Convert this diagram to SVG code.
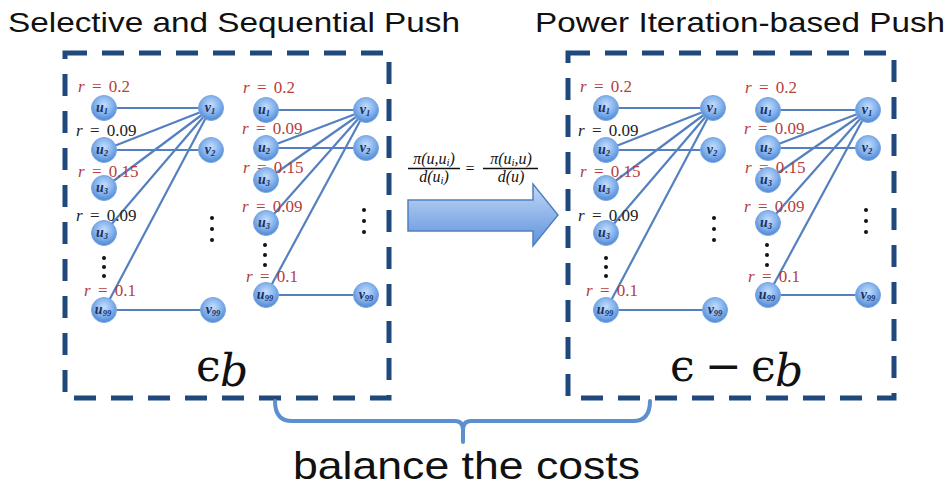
<svg xmlns="http://www.w3.org/2000/svg" width="951" height="486" viewBox="0 0 951 486">
<defs>
<radialGradient id="nodeFill" cx="50%" cy="38%" r="62%">
<stop offset="0" stop-color="#c6defa"/>
<stop offset="0.55" stop-color="#86b4ee"/>
<stop offset="1" stop-color="#4d86d3"/>
</radialGradient>
<linearGradient id="arrowFill" x1="0" y1="0" x2="0" y2="1">
<stop offset="0" stop-color="#c3d8f6"/>
<stop offset="1" stop-color="#5f92dc"/>
</linearGradient>
<style>
.box{fill:none;stroke:#1f497d;stroke-width:5;stroke-dasharray:22 15}
.edge{stroke:#5580c0;stroke-width:2.2;fill:none}
.node circle{fill:url(#nodeFill);stroke:#7aa6e0;stroke-width:1}
.nl{font-family:"Liberation Serif",serif;font-style:italic;font-weight:bold;font-size:14px;fill:#1c2f5c;text-anchor:middle}
.nl tspan.s{font-size:8.5px}
.rr{font-family:"Liberation Serif",serif;font-size:17px;word-spacing:3px;fill:#b5403e}
.rb{font-family:"Liberation Serif",serif;font-size:17px;word-spacing:3px;fill:#222}
.ri{font-style:italic}
.dot{fill:#111}
.title{font-family:"Liberation Sans",Arial,sans-serif;font-size:28px;fill:#111}
.math{font-family:"Liberation Serif",serif;font-style:italic;font-size:16px;fill:#111;text-anchor:middle}
.eps{font-family:"DejaVu Serif",serif;font-size:44px;fill:#111}
.bar{stroke:#111;stroke-width:1.3}
</style>
</defs>
<rect width="951" height="486" fill="#ffffff"/>

<text class="title" x="8" y="32" textLength="452" lengthAdjust="spacingAndGlyphs">Selective and Sequential Push</text>
<text class="title" x="535" y="32" textLength="410" lengthAdjust="spacingAndGlyphs">Power Iteration-based Push</text>

<rect class="box" x="65" y="53" width="324" height="345"/>
<rect class="box" x="568" y="53" width="326" height="345"/>

<g id="connectors">
<g id="edges-g1">
<line class="edge" x1="104" y1="108" x2="211" y2="108"/>
<line class="edge" x1="104" y1="150" x2="211" y2="108"/>
<line class="edge" x1="104" y1="150" x2="211" y2="150"/>
<line class="edge" x1="104" y1="188" x2="211" y2="108"/>
<line class="edge" x1="104" y1="233" x2="211" y2="108"/>
<line class="edge" x1="104" y1="310" x2="211" y2="108"/>
<line class="edge" x1="104" y1="310" x2="213" y2="310"/>
</g>
<g id="edges-g2">
<line class="edge" x1="266" y1="110" x2="366" y2="110"/>
<line class="edge" x1="266" y1="148" x2="366" y2="110"/>
<line class="edge" x1="266" y1="148" x2="366" y2="148"/>
<line class="edge" x1="266" y1="180" x2="366" y2="110"/>
<line class="edge" x1="266" y1="223" x2="366" y2="110"/>
<line class="edge" x1="266" y1="295" x2="366" y2="110"/>
<line class="edge" x1="266" y1="295" x2="366" y2="295"/>
</g>
<g id="edges-g3" transform="translate(502,0)">
<line class="edge" x1="104" y1="108" x2="211" y2="108"/>
<line class="edge" x1="104" y1="150" x2="211" y2="108"/>
<line class="edge" x1="104" y1="150" x2="211" y2="150"/>
<line class="edge" x1="104" y1="188" x2="211" y2="108"/>
<line class="edge" x1="104" y1="233" x2="211" y2="108"/>
<line class="edge" x1="104" y1="310" x2="211" y2="108"/>
<line class="edge" x1="104" y1="310" x2="213" y2="310"/>
</g>
<g id="edges-g4" transform="translate(502,0)">
<line class="edge" x1="266" y1="110" x2="366" y2="110"/>
<line class="edge" x1="266" y1="148" x2="366" y2="110"/>
<line class="edge" x1="266" y1="148" x2="366" y2="148"/>
<line class="edge" x1="266" y1="180" x2="366" y2="110"/>
<line class="edge" x1="266" y1="223" x2="366" y2="110"/>
<line class="edge" x1="266" y1="295" x2="366" y2="110"/>
<line class="edge" x1="266" y1="295" x2="366" y2="295"/>
</g>
<g id="push-arrow">
<path d="M408,200 L533,200 L533,184 L558,215 L533,246 L533,231 L408,231 Z" fill="url(#arrowFill)" stroke="#4f81bd" stroke-width="1.5"/>
</g>
<g id="brace">
<path d="M275,401 Q275,421 292,421 L455,421 Q463,421 463,430 L463,442 L463,430 Q463,421 471,421 L633,421 Q650,421 650,401" fill="none" stroke="#5b8fd0" stroke-width="4" stroke-linejoin="round" stroke-linecap="round"/>
</g>
</g>

<!-- Graph 1 -->
<g id="graph1">
<g id="g1-u1" class="node"><text class="rr" x="78" y="92"><tspan class="ri">r</tspan> = 0.2</text><circle cx="104" cy="108" r="12.5"/><text class="nl" x="102" y="112">u<tspan class="s" dy="2">1</tspan></text></g>
<g id="g1-u2" class="node"><text class="rb" x="76" y="136"><tspan class="ri">r</tspan> = 0.09</text><circle cx="104" cy="150" r="12.5"/><text class="nl" x="102" y="154">u<tspan class="s" dy="2">2</tspan></text></g>
<g id="g1-u3a" class="node"><text class="rr" x="78" y="177"><tspan class="ri">r</tspan> = 0.15</text><circle cx="104" cy="188" r="12.5"/><text class="nl" x="102" y="192">u<tspan class="s" dy="2">3</tspan></text></g>
<g id="g1-u3b" class="node"><text class="rb" x="76" y="221"><tspan class="ri">r</tspan> = 0.09</text><circle cx="104" cy="233" r="12.5"/><text class="nl" x="102" y="237">u<tspan class="s" dy="2">3</tspan></text></g>
<g id="g1-u99" class="node"><text class="rr" x="84" y="296"><tspan class="ri">r</tspan> = 0.1</text><circle cx="104" cy="310" r="12.5"/><text class="nl" x="103" y="314">u<tspan class="s" dy="2">99</tspan></text></g>
<g id="g1-v1" class="node"><circle cx="211" cy="108" r="12.5"/><text class="nl" x="210" y="112">v<tspan class="s" dy="2">1</tspan></text></g>
<g id="g1-v2" class="node"><circle cx="211" cy="150" r="12.5"/><text class="nl" x="210" y="154">v<tspan class="s" dy="2">2</tspan></text></g>
<g id="g1-v99" class="node"><circle cx="213" cy="310" r="12.5"/><text class="nl" x="213" y="314">v<tspan class="s" dy="2">99</tspan></text></g>
<g id="g1-dots"><circle class="dot" cx="104" cy="258" r="2"/><circle class="dot" cx="104" cy="267" r="2"/><circle class="dot" cx="104" cy="276" r="2"/><circle class="dot" cx="212" cy="218" r="2"/><circle class="dot" cx="212" cy="229" r="2"/><circle class="dot" cx="212" cy="240" r="2"/></g>
</g>

<!-- Graph 2 -->
<g id="graph2">
<g id="g2-u1" class="node"><text class="rr" x="243" y="93"><tspan class="ri">r</tspan> = 0.2</text><circle cx="266" cy="110" r="12.5"/><text class="nl" x="264" y="114">u<tspan class="s" dy="2">1</tspan></text></g>
<g id="g2-u2" class="node"><text class="rr" x="242" y="134"><tspan class="ri">r</tspan> = 0.09</text><circle cx="266" cy="148" r="12.5"/><text class="nl" x="264" y="152">u<tspan class="s" dy="2">2</tspan></text></g>
<g id="g2-u3a" class="node"><text class="rr" x="243" y="173"><tspan class="ri">r</tspan> = 0.15</text><circle cx="266" cy="180" r="12.5"/><text class="nl" x="264" y="184">u<tspan class="s" dy="2">3</tspan></text></g>
<g id="g2-u3b" class="node"><text class="rr" x="242" y="212"><tspan class="ri">r</tspan> = 0.09</text><circle cx="266" cy="223" r="12.5"/><text class="nl" x="264" y="227">u<tspan class="s" dy="2">3</tspan></text></g>
<g id="g2-u99" class="node"><text class="rr" x="246" y="282"><tspan class="ri">r</tspan> = 0.1</text><circle cx="266" cy="295" r="12.5"/><text class="nl" x="265" y="299">u<tspan class="s" dy="2">99</tspan></text></g>
<g id="g2-v1" class="node"><circle cx="366" cy="110" r="12.5"/><text class="nl" x="365" y="114">v<tspan class="s" dy="2">1</tspan></text></g>
<g id="g2-v2" class="node"><circle cx="366" cy="148" r="12.5"/><text class="nl" x="365" y="152">v<tspan class="s" dy="2">2</tspan></text></g>
<g id="g2-v99" class="node"><circle cx="366" cy="295" r="12.5"/><text class="nl" x="366" y="299">v<tspan class="s" dy="2">99</tspan></text></g>
<g id="g2-dots"><circle class="dot" cx="265" cy="245" r="2"/><circle class="dot" cx="265" cy="255" r="2"/><circle class="dot" cx="265" cy="265" r="2"/><circle class="dot" cx="364" cy="210" r="2"/><circle class="dot" cx="364" cy="221" r="2"/><circle class="dot" cx="364" cy="232" r="2"/></g>
</g>

<!-- Graph 3 -->
<g id="graph3" transform="translate(502,0)">
<g id="g3-u1" class="node"><text class="rr" x="78" y="92"><tspan class="ri">r</tspan> = 0.2</text><circle cx="104" cy="108" r="12.5"/><text class="nl" x="102" y="112">u<tspan class="s" dy="2">1</tspan></text></g>
<g id="g3-u2" class="node"><text class="rb" x="76" y="136"><tspan class="ri">r</tspan> = 0.09</text><circle cx="104" cy="150" r="12.5"/><text class="nl" x="102" y="154">u<tspan class="s" dy="2">2</tspan></text></g>
<g id="g3-u3a" class="node"><text class="rr" x="78" y="177"><tspan class="ri">r</tspan> = 0.15</text><circle cx="104" cy="188" r="12.5"/><text class="nl" x="102" y="192">u<tspan class="s" dy="2">3</tspan></text></g>
<g id="g3-u3b" class="node"><text class="rb" x="76" y="221"><tspan class="ri">r</tspan> = 0.09</text><circle cx="104" cy="233" r="12.5"/><text class="nl" x="102" y="237">u<tspan class="s" dy="2">3</tspan></text></g>
<g id="g3-u99" class="node"><text class="rr" x="84" y="296"><tspan class="ri">r</tspan> = 0.1</text><circle cx="104" cy="310" r="12.5"/><text class="nl" x="103" y="314">u<tspan class="s" dy="2">99</tspan></text></g>
<g id="g3-v1" class="node"><circle cx="211" cy="108" r="12.5"/><text class="nl" x="210" y="112">v<tspan class="s" dy="2">1</tspan></text></g>
<g id="g3-v2" class="node"><circle cx="211" cy="150" r="12.5"/><text class="nl" x="210" y="154">v<tspan class="s" dy="2">2</tspan></text></g>
<g id="g3-v99" class="node"><circle cx="213" cy="310" r="12.5"/><text class="nl" x="213" y="314">v<tspan class="s" dy="2">99</tspan></text></g>
<g id="g3-dots"><circle class="dot" cx="104" cy="258" r="2"/><circle class="dot" cx="104" cy="267" r="2"/><circle class="dot" cx="104" cy="276" r="2"/><circle class="dot" cx="212" cy="218" r="2"/><circle class="dot" cx="212" cy="229" r="2"/><circle class="dot" cx="212" cy="240" r="2"/></g>
</g>

<!-- Graph 4 -->
<g id="graph4" transform="translate(502,0)">
<g id="g4-u1" class="node"><text class="rr" x="243" y="93"><tspan class="ri">r</tspan> = 0.2</text><circle cx="266" cy="110" r="12.5"/><text class="nl" x="264" y="114">u<tspan class="s" dy="2">1</tspan></text></g>
<g id="g4-u2" class="node"><text class="rr" x="242" y="134"><tspan class="ri">r</tspan> = 0.09</text><circle cx="266" cy="148" r="12.5"/><text class="nl" x="264" y="152">u<tspan class="s" dy="2">2</tspan></text></g>
<g id="g4-u3a" class="node"><text class="rr" x="243" y="173"><tspan class="ri">r</tspan> = 0.15</text><circle cx="266" cy="180" r="12.5"/><text class="nl" x="264" y="184">u<tspan class="s" dy="2">3</tspan></text></g>
<g id="g4-u3b" class="node"><text class="rr" x="242" y="212"><tspan class="ri">r</tspan> = 0.09</text><circle cx="266" cy="223" r="12.5"/><text class="nl" x="264" y="227">u<tspan class="s" dy="2">3</tspan></text></g>
<g id="g4-u99" class="node"><text class="rr" x="246" y="282"><tspan class="ri">r</tspan> = 0.1</text><circle cx="266" cy="295" r="12.5"/><text class="nl" x="265" y="299">u<tspan class="s" dy="2">99</tspan></text></g>
<g id="g4-v1" class="node"><circle cx="366" cy="110" r="12.5"/><text class="nl" x="365" y="114">v<tspan class="s" dy="2">1</tspan></text></g>
<g id="g4-v2" class="node"><circle cx="366" cy="148" r="12.5"/><text class="nl" x="365" y="152">v<tspan class="s" dy="2">2</tspan></text></g>
<g id="g4-v99" class="node"><circle cx="366" cy="295" r="12.5"/><text class="nl" x="366" y="299">v<tspan class="s" dy="2">99</tspan></text></g>
<g id="g4-dots"><circle class="dot" cx="265" cy="245" r="2"/><circle class="dot" cx="265" cy="255" r="2"/><circle class="dot" cx="265" cy="265" r="2"/><circle class="dot" cx="364" cy="210" r="2"/><circle class="dot" cx="364" cy="221" r="2"/><circle class="dot" cx="364" cy="232" r="2"/></g>
</g>

<!-- Formula -->
<g id="formula">
<text class="math" x="434" y="164">π(u,u<tspan font-size="11" dy="2">i</tspan><tspan dy="-2">)</tspan></text>
<line class="bar" x1="408" y1="168.5" x2="460" y2="168.5"/>
<text class="math" x="434" y="182">d(u<tspan font-size="11" dy="2">i</tspan><tspan dy="-2">)</tspan></text>
<text class="math" x="470" y="174" font-style="normal" font-size="19">=</text>
<text class="math" x="511" y="164">π(u<tspan font-size="11" dy="2">i</tspan><tspan dy="-2">,u)</tspan></text>
<line class="bar" x1="483" y1="168.5" x2="538" y2="168.5"/>
<text class="math" x="511" y="182">d(u)</text>
</g>

<!-- Epsilon labels -->
<g id="eps-left">
<text class="eps" x="196" y="381">ϵ</text>
<text class="eps" x="220" y="386" font-style="italic" font-size="32">b</text>
</g>
<g id="eps-right">
<text class="eps" x="670" y="381">ϵ</text>
<text class="eps" x="705" y="381" font-size="34">−</text>
<text class="eps" x="751" y="381">ϵ</text>
<text class="eps" x="775" y="386" font-style="italic" font-size="32">b</text>
</g>

<text x="293" y="479" font-family="Liberation Sans, Arial, sans-serif" font-size="39" fill="#111" textLength="347" lengthAdjust="spacingAndGlyphs">balance the costs</text>
</svg>
